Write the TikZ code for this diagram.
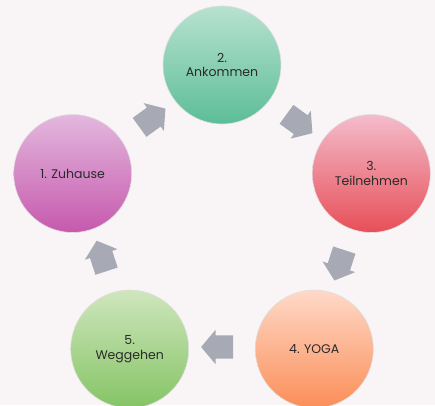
\documentclass[tikz,border=0pt]{standalone}
\usepackage{fontspec}
\setmainfont{Poppins}
\usetikzlibrary{shapes.arrows,calc}
\definecolor{bg}{HTML}{F9F5F7}
\definecolor{txt}{HTML}{2A2A2A}
\definecolor{arr}{HTML}{A7AAB5}
\definecolor{aT}{HTML}{E3B8DE}\definecolor{aB}{HTML}{C659AD}
\definecolor{bT}{HTML}{B8E2D0}\definecolor{bB}{HTML}{5CBD98}
\definecolor{cT}{HTML}{F4BCCB}\definecolor{cB}{HTML}{E74F58}
\definecolor{dT}{HTML}{FED9C8}\definecolor{dB}{HTML}{FB8E58}
\definecolor{eT}{HTML}{CFE6BD}\definecolor{eB}{HTML}{85C465}
\tikzset{
  stage/.style={circle, minimum size=118pt, inner sep=0pt, draw=black!12, line width=0.6pt,
    align=center, text=txt, font=\fontsize{12.5}{14.5}\selectfont},
  cyc/.style={single arrow, fill=arr, draw=none, minimum width=34pt, minimum height=32pt,
    single arrow head extend=5.5pt, single arrow tip angle=100, inner xsep=0pt, inner ysep=11.5pt}
}
\begin{document}
\begin{tikzpicture}[x=1pt,y=1pt]
\fill[bg] (0,0) rectangle (435,405);
\useasboundingbox (0,0) rectangle (435,405);
\coordinate (c) at (222,183);
\node[stage, top color=aT, bottom color=aB] (s1) at ($(c)+(162:157)$) {1. Zuhause};
\node[stage, top color=bT, bottom color=bB] (s2) at ($(c)+(90:157)$) {2.\\Ankommen};
\node[stage, top color=cT, bottom color=cB] (s3) at ($(c)+(18:157)$) {3.\\Teilnehmen};
\node[stage, top color=dT, bottom color=dB] (s4) at ($(c)+(-54:157)$) {4. YOGA};
\node[stage, top color=eT, bottom color=eB] (s5) at ($(c)+(-126:157)$) {5.\\Weggehen};
\node[cyc, rotate=36] (a12) at ($(c)+(126:125)$) {};
\node[cyc, rotate=-36] (a23) at ($(c)+(54:125)$) {};
\node[cyc, rotate=-108] (a34) at ($(c)+(-18:125)$) {};
\node[cyc, rotate=180] (a45) at ($(c)+(-90:125)$) {};
\node[cyc, rotate=108] (a51) at ($(c)+(198:125)$) {};
\end{tikzpicture}
\end{document}
